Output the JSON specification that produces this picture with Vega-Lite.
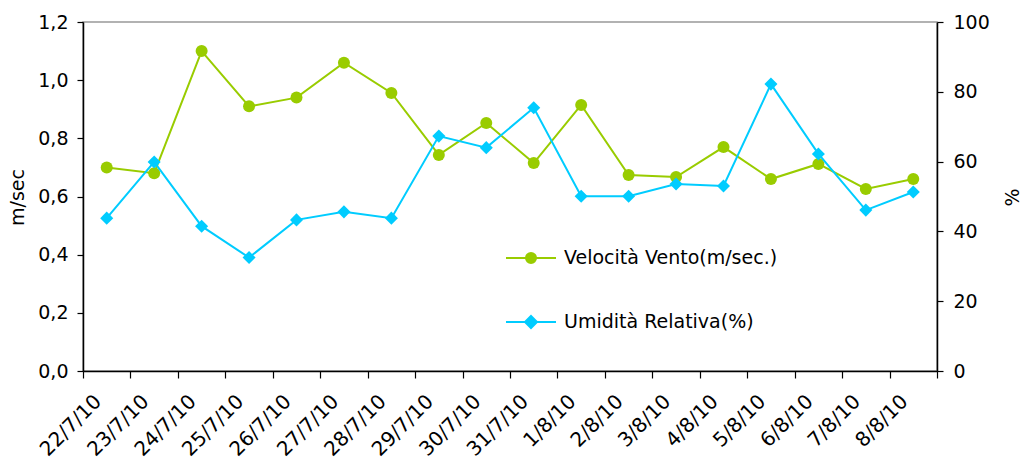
{
  "$schema": "https://vega.github.io/schema/vega-lite/v6.json",
  "width": 854,
  "height": 349,
  "autosize": {"type": "none"},
  "padding": {"left": 83, "top": 22, "right": 84, "bottom": 93},
  "background": "white",
  "config": {
    "font": "DejaVu Sans",
    "view": {"stroke": "#999999", "strokeWidth": 1.5},
    "axis": {"grid": false, "labelColor": "#000000", "labelFontSize": 19, "labelFont": "DejaVu Sans", "tickColor": "#000000", "domainColor": "#000000", "domainWidth": 1.5, "tickWidth": 1.2, "tickSize": 6, "titleFont": "DejaVu Sans", "titleFontWeight": "normal", "titleFontSize": 19, "titleColor": "#000000"}
  },
  "data": {
    "values": [
      {"date": "22/7/10", "vento": 0.70, "umidita": 43.8},
      {"date": "23/7/10", "vento": 0.68, "umidita": 59.9},
      {"date": "24/7/10", "vento": 1.10, "umidita": 41.5},
      {"date": "25/7/10", "vento": 0.91, "umidita": 32.5},
      {"date": "26/7/10", "vento": 0.94, "umidita": 43.3},
      {"date": "27/7/10", "vento": 1.06, "umidita": 45.6},
      {"date": "28/7/10", "vento": 0.956, "umidita": 43.8},
      {"date": "29/7/10", "vento": 0.743, "umidita": 67.3},
      {"date": "30/7/10", "vento": 0.853, "umidita": 64.0},
      {"date": "31/7/10", "vento": 0.715, "umidita": 75.4},
      {"date": "1/8/10", "vento": 0.915, "umidita": 50.1},
      {"date": "2/8/10", "vento": 0.674, "umidita": 50.1},
      {"date": "3/8/10", "vento": 0.667, "umidita": 53.6},
      {"date": "4/8/10", "vento": 0.77, "umidita": 53.0},
      {"date": "5/8/10", "vento": 0.66, "umidita": 82.2},
      {"date": "6/8/10", "vento": 0.712, "umidita": 62.2},
      {"date": "7/8/10", "vento": 0.626, "umidita": 46.1},
      {"date": "8/8/10", "vento": 0.66, "umidita": 51.3}
    ]
  },
  "encoding": {
    "x": {
      "field": "date",
      "type": "ordinal",
      "sort": null,
      "scale": {"type": "band", "paddingInner": 0, "paddingOuter": 0},
      "axis": {"title": null, "labelAngle": -45, "labelAlign": "right", "labelBaseline": "middle", "labelPadding": 20, "labelOffset": -9, "labelFontSize": 20, "tickBand": "extent", "tickSize": 7}
    }
  },
  "layer": [
    {
      "encoding": {
        "y": {
          "field": "vento",
          "type": "quantitative",
          "scale": {"domain": [0, 1.2], "nice": false, "zero": true},
          "axis": {"orient": "left", "values": [0, 0.2, 0.4, 0.6, 0.8, 1.0, 1.2], "labelExpr": "replace(format(datum.value, '.1f'), '.', ',')", "labelPadding": 9, "title": "m/sec", "titleX": -66, "titleY": 175, "titleAngle": -90, "titleAlign": "center", "titleBaseline": "middle"}
        },
        "color": {
          "datum": "Velocità Vento(m/sec.)",
          "type": "nominal",
          "scale": {"domain": ["Velocità Vento(m/sec.)", "Umidità Relativa(%)"], "range": ["#99CC00", "#00CCFF"]},
          "legend": {
            "orient": "none",
            "legendX": 422,
            "legendY": 210,
            "title": null,
            "padding": 0,
            "symbolSize": 2500,
            "rowPadding": 28,
            "labelOffset": 7,
            "labelFontSize": 19,
            "labelFont": "DejaVu Sans",
            "labelColor": "#000000",
            "labelLimit": 400,
            "symbolOpacity": 1,
            "encode": {
              "symbols": {
                "update": {
                  "shape": {"signal": "datum.value === 'Velocità Vento(m/sec.)' ? 'M-1,0H1M-0.2,0A0.2,0.2 0 1,1 0.2,0A0.2,0.2 0 1,1 -0.2,0Z' : 'M-1,0H1M0,-0.24L0.24,0L0,0.24L-0.24,0Z'"},
                  "fill": {"scale": "color", "field": "value"},
                  "stroke": {"scale": "color", "field": "value"},
                  "strokeWidth": {"value": 2},
                  "opacity": {"value": 1}
                }
              }
            }
          }
        }
      },
      "layer": [
        {"mark": {"type": "line", "strokeWidth": 2}},
        {"mark": {"type": "point", "shape": "circle", "filled": true, "opacity": 1, "size": 144}}
      ]
    },
    {
      "encoding": {
        "y": {
          "field": "umidita",
          "type": "quantitative",
          "scale": {"domain": [0, 100], "nice": false, "zero": true},
          "axis": {"orient": "right", "values": [0, 20, 40, 60, 80, 100], "labelPadding": 10, "title": "%", "titleX": 75, "titleY": 175, "titleAngle": -90, "titleAlign": "center", "titleBaseline": "middle"}
        },
        "color": {"datum": "Umidità Relativa(%)", "type": "nominal"}
      },
      "layer": [
        {"mark": {"type": "line", "strokeWidth": 2}},
        {"mark": {"type": "point", "shape": "diamond", "filled": true, "opacity": 1, "size": 170}}
      ]
    }
  ],
  "resolve": {"scale": {"y": "independent"}}
}
